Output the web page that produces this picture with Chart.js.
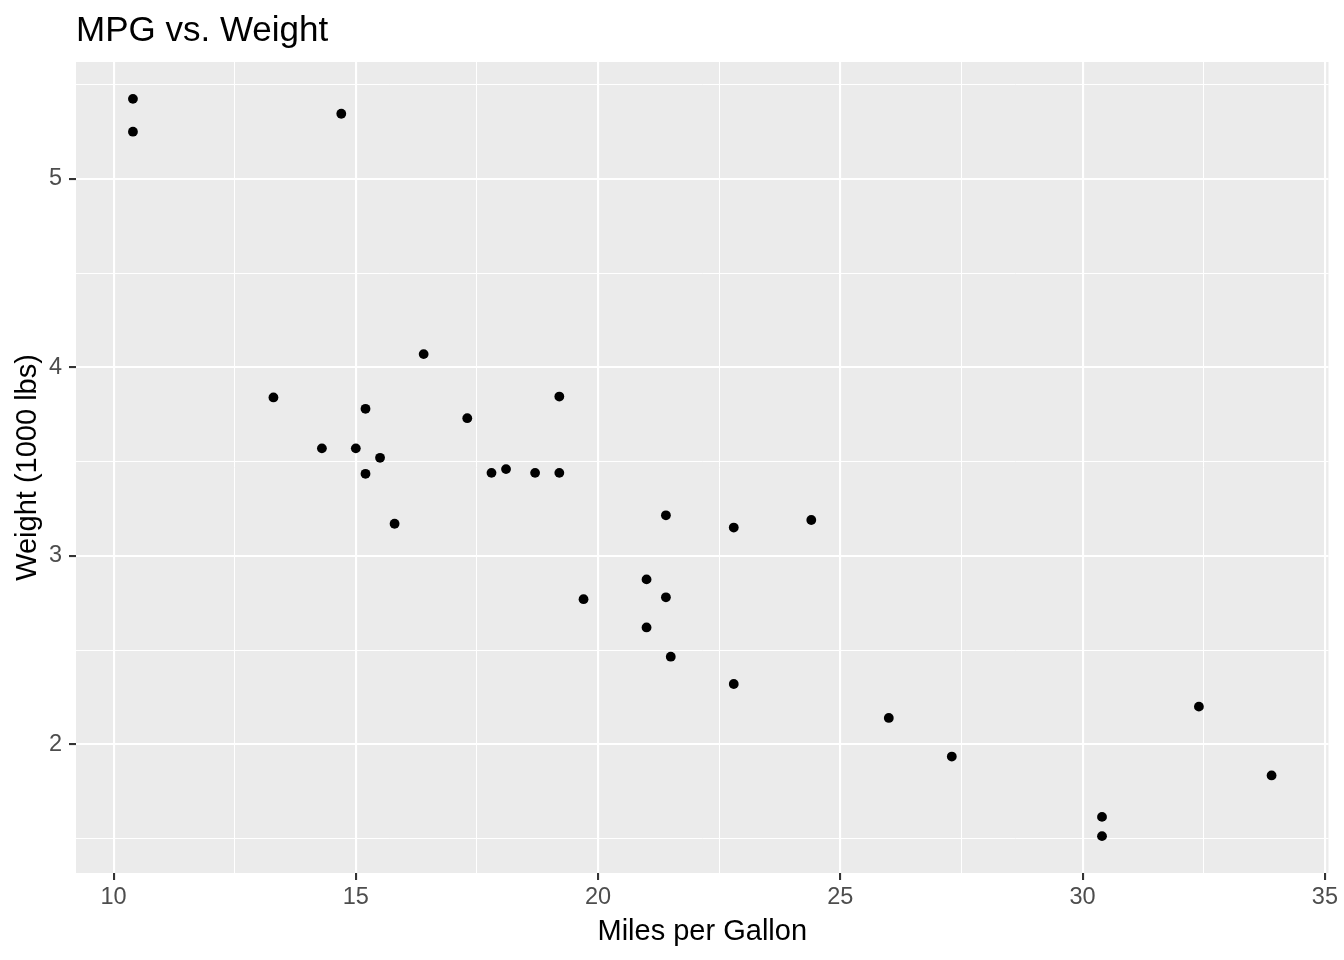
<!DOCTYPE html>
<html>
<head>
<meta charset="utf-8">
<script src="https://cdn.jsdelivr.net/npm/chart.js@4.4.1/dist/chart.umd.min.js"></script>
<style>
  html, body { margin: 0; padding: 0; background: #ffffff; }
  #wrap { width: 1344px; height: 960px; position: relative; }
</style>
</head>
<body>
<div id="wrap"><canvas id="c" width="1344" height="960"></canvas></div>
<script>
// mtcars: miles per gallon vs weight (1000 lbs)
const carNames = ["Mazda RX4","Mazda RX4 Wag","Datsun 710","Hornet 4 Drive","Hornet Sportabout","Valiant","Duster 360","Merc 240D","Merc 230","Merc 280","Merc 280C","Merc 450SE","Merc 450SL","Merc 450SLC","Cadillac Fleetwood","Lincoln Continental","Chrysler Imperial","Fiat 128","Honda Civic","Toyota Corolla","Toyota Corona","Dodge Challenger","AMC Javelin","Camaro Z28","Pontiac Firebird","Fiat X1-9","Porsche 914-2","Lotus Europa","Ford Pantera L","Ferrari Dino","Maserati Bora","Volvo 142E"];
const mpg = [21.0,21.0,22.8,21.4,18.7,18.1,14.3,24.4,22.8,19.2,17.8,16.4,17.3,15.2,10.4,10.4,14.7,32.4,30.4,33.9,21.5,15.5,15.2,13.3,19.2,27.3,26.0,30.4,15.8,19.7,15.0,21.4];
const weight = [2.620,2.875,2.320,3.215,3.440,3.460,3.570,3.190,3.150,3.440,3.440,4.070,3.730,3.780,5.250,5.424,5.345,2.200,1.615,1.835,2.465,3.520,3.435,3.840,3.845,1.935,2.140,1.513,3.170,2.770,3.570,2.780];

const xMajorTicks = [10, 15, 20, 25, 30, 35];
const xMinorTicks = [12.5, 17.5, 22.5, 27.5, 32.5];
const yMajorTicks = [2, 3, 4, 5];
const yMinorTicks = [1.5, 2.5, 3.5, 4.5, 5.5];

const titleText = "MPG vs. Weight";
const xTitle = "Miles per Gallon";
const yTitle = "Weight (1000 lbs)";

// ggplot-style 5% expansion of the data range
function expand(vals) {
  const lo = Math.min(...vals), hi = Math.max(...vals);
  const d = (hi - lo) * 0.05;
  return [lo - d, hi + d];
}
const [xMin, xMax] = expand(mpg);
const [yMin, yMax] = expand(weight);

const points = mpg.map((m, i) => ({ x: m, y: weight[i], name: carNames[i] }));

const FONT = "'Liberation Sans', Arial, Helvetica, sans-serif";

function isMajor(list, v) { return list.some(t => Math.abs(t - v) < 1e-9); }

function tickBuilder(major, minor) {
  return function (scale) {
    const all = major.concat(minor).filter(v => v >= scale.min && v <= scale.max).sort((a, b) => a - b);
    scale.ticks = all.map(v => ({ value: v, major: false }));
  };
}

const panelBg = {
  id: 'panelBg',
  beforeDraw(chart) {
    const { ctx, chartArea: a } = chart;
    ctx.save();
    ctx.fillStyle = '#EBEBEB';
    ctx.fillRect(a.left, a.top, a.right - a.left, a.bottom - a.top);
    ctx.restore();
  }
};

function gridOpts(major) {
  return {
    display: true,
    drawOnChartArea: true,
    drawTicks: true,
    offset: false,
    tickLength: 7,
    color: '#FFFFFF',
    lineWidth: ctx => (ctx.tick && isMajor(major, ctx.tick.value)) ? 2.1 : 1,
    tickColor: ctx => (ctx.tick && isMajor(major, ctx.tick.value)) ? '#333333' : 'rgba(0,0,0,0)',
    tickWidth: 2.1
  };
}

new Chart(document.getElementById('c'), {
  type: 'scatter',
  data: {
    datasets: [{
      label: 'cars',
      data: points,
      backgroundColor: '#000000',
      borderColor: '#000000',
      borderWidth: 0,
      pointRadius: 4.9,
      pointHoverRadius: 4.9
    }]
  },
  options: {
    responsive: false,
    animation: false,
    devicePixelRatio: 1,
    layout: { padding: { top: 0, right: 15, bottom: 0, left: 0 } },
    plugins: {
      legend: { display: false },
      tooltip: { enabled: false },
      title: {
        display: true,
        text: titleText,
        align: 'start',
        fullSize: false,
        color: '#000000',
        font: { family: FONT, size: 35, weight: 'normal', lineHeight: 1 },
        padding: { top: 14, bottom: 13 }
      }
    },
    scales: {
      x: {
        type: 'linear',
        position: 'bottom',
        min: xMin,
        max: xMax,
        afterBuildTicks: tickBuilder(xMajorTicks, xMinorTicks),
        afterFit: s => { s.height = 87; },
        border: { display: false },
        grid: gridOpts(xMajorTicks),
        ticks: {
          autoSkip: false,
          maxRotation: 0,
          padding: 6,
          color: '#4D4D4D',
          font: { family: FONT, size: 23.5, lineHeight: 1 },
          callback: v => isMajor(xMajorTicks, v) ? String(v) : ''
        },
        title: {
          display: true,
          text: xTitle,
          color: '#000000',
          font: { family: FONT, size: 29, lineHeight: 1 },
          padding: { top: 0, bottom: 14 }
        }
      },
      y: {
        type: 'linear',
        position: 'left',
        min: yMin,
        max: yMax,
        afterBuildTicks: tickBuilder(yMajorTicks, yMinorTicks),
        afterFit: s => { s.width = 76; },
        border: { display: false },
        grid: gridOpts(yMajorTicks),
        ticks: {
          autoSkip: false,
          padding: 7,
          color: '#4D4D4D',
          font: { family: FONT, size: 23.5, lineHeight: 1 },
          callback: v => isMajor(yMajorTicks, v) ? String(v) : ''
        },
        title: {
          display: true,
          text: yTitle,
          color: '#000000',
          font: { family: FONT, size: 29, lineHeight: 1 },
          padding: { top: 13, bottom: 0 }
        }
      }
    }
  },
  plugins: [panelBg]
});
</script>
</body>
</html>
